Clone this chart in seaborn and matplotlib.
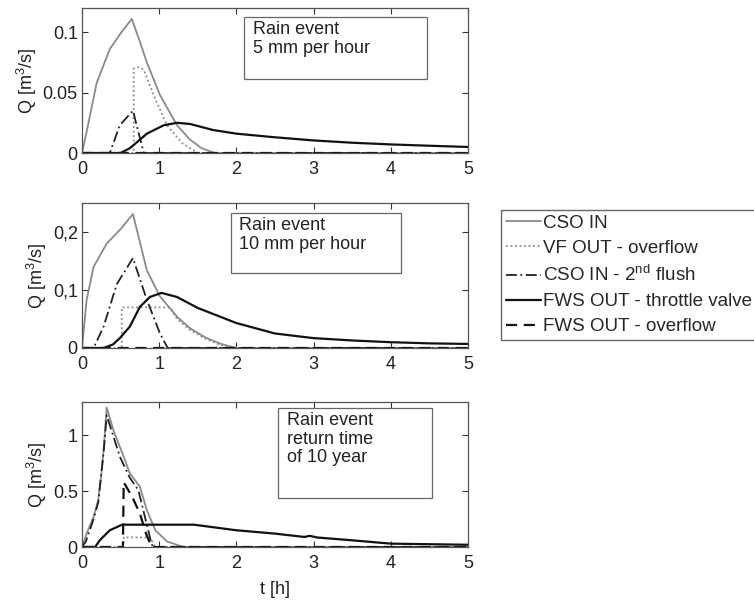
import numpy as np
import matplotlib
matplotlib.use("Agg")
from matplotlib import pyplot as plt
from matplotlib.lines import Line2D
from matplotlib.patches import Rectangle
import seaborn as sns

# ---- data ----
# rain event 5 mm per hour
cso_in_5_t = [0, 0.06, 0.19, 0.36, 0.5, 0.645, 0.75, 0.84, 1.01, 1.23, 1.4, 1.55, 1.72, 5]
cso_in_5_q = [0, 0.0175, 0.058, 0.086, 0.099, 0.111, 0.092, 0.075, 0.048, 0.023, 0.011, 0.004, 0, 0]
vf_5_t = [0, 0.67, 0.67, 0.73, 0.8, 0.93, 1.1, 1.3, 1.5, 5]
vf_5_q = [0, 0, 0.07, 0.071, 0.069, 0.0475, 0.023, 0.008, 0, 0]
flush_5_t = [0, 0.36, 0.49, 0.66, 0.8, 5]
flush_5_q = [0, 0, 0.023, 0.035, 0, 0]
fws_5_t = [0, 0.5, 0.62, 0.75, 0.84, 1.06, 1.23, 1.4, 1.7, 2.0, 2.5, 3.0, 3.5, 4.0, 4.5, 5.0]
fws_5_q = [0, 0, 0.004, 0.011, 0.016, 0.023, 0.025, 0.024, 0.019, 0.016, 0.013, 0.0104, 0.0085, 0.0071, 0.006, 0.005]
ovf_5_t = [0, 5]
ovf_5_q = [0, 0]

# rain event 10 mm per hour
cso_in_10_t = [0, 0.06, 0.15, 0.32, 0.5, 0.66, 0.84, 1.01, 1.23, 1.4, 1.6, 1.8, 2.0, 5]
cso_in_10_q = [0, 0.083, 0.14, 0.18, 0.205, 0.231, 0.134, 0.089, 0.054, 0.034, 0.018, 0.007, 0, 0]
vf_10_t = [0, 0.515, 0.515, 1.14, 1.23, 1.4, 1.6, 1.8, 1.95, 5]
vf_10_q = [0, 0, 0.07, 0.07, 0.05, 0.031, 0.016, 0.005, 0, 0]
flush_10_t = [0, 0.15, 0.28, 0.45, 0.66, 0.84, 1.01, 1.11, 5]
flush_10_q = [0, 0, 0.037, 0.11, 0.155, 0.083, 0.025, 0, 0]
fws_10_t = [0, 0.28, 0.4, 0.49, 0.62, 0.75, 0.88, 1.03, 1.23, 1.5, 2.0, 2.5, 3.0, 3.5, 4.0, 4.5, 5.0]
fws_10_q = [0, 0, 0.006, 0.017, 0.037, 0.071, 0.088, 0.095, 0.088, 0.069, 0.043, 0.025, 0.017, 0.013, 0.01, 0.008, 0.007]
ovf_10_t = [0, 5]
ovf_10_q = [0, 0]

# rain event, return time of 10 year
cso_in_y_t = [0, 0.06, 0.15, 0.21, 0.25, 0.28, 0.32, 0.41, 0.54, 0.62, 0.75, 0.84, 0.95, 1.1, 1.27, 1.35, 5]
cso_in_y_q = [0, 0.12, 0.27, 0.42, 0.65, 0.87, 1.25, 1.04, 0.81, 0.66, 0.54, 0.33, 0.15, 0.05, 0.01, 0, 0]
vf_y_t = [0, 0.54, 0.54, 0.88, 0.95, 5]
vf_y_q = [0, 0, 0.086, 0.086, 0, 0]
flush_y_t = [0, 0.05, 0.15, 0.21, 0.28, 0.32, 0.49, 0.62, 0.73, 0.9, 0.92, 5]
flush_y_q = [0, 0.05, 0.25, 0.4, 0.85, 1.18, 0.81, 0.62, 0.51, 0.03, 0, 0]
fws_y_t = [0, 0.17, 0.23, 0.36, 0.52, 1.45, 2.0, 2.5, 2.88, 2.95, 3.05, 3.5, 4.0, 4.5, 5.0]
fws_y_q = [0, 0, 0.06, 0.15, 0.2, 0.2, 0.15, 0.12, 0.09, 0.1, 0.085, 0.06, 0.03, 0.025, 0.02]
ovf_y_t = [0, 0.53, 0.54, 0.65, 0.75, 0.83, 0.9, 5]
ovf_y_q = [0, 0, 0.58, 0.45, 0.3, 0.12, 0, 0]

series_names = ["CSO IN", "VF OUT - overflow", "CSO IN - 2$^{\\mathrm{nd}}$ flush",
                "FWS OUT - throttle valve", "FWS OUT - overflow"]
box_texts = ["Rain event\n5 mm per hour", "Rain event\n10 mm per hour",
             "Rain event\nreturn time\nof 10 year"]
ytick_vals = [[0, 0.05, 0.1], [0, 0.1, 0.2], [0, 0.5, 1]]
ytick_labels = [["0", "0.05", "0.1"], ["0", "0,1", "0,2"], ["0", "0.5", "1"]]
ymax = [0.12, 0.25, 1.3]

panels = [
    [(cso_in_5_t, cso_in_5_q), (vf_5_t, vf_5_q), (flush_5_t, flush_5_q), (fws_5_t, fws_5_q), (ovf_5_t, ovf_5_q)],
    [(cso_in_10_t, cso_in_10_q), (vf_10_t, vf_10_q), (flush_10_t, flush_10_q), (fws_10_t, fws_10_q), (ovf_10_t, ovf_10_q)],
    [(cso_in_y_t, cso_in_y_q), (vf_y_t, vf_y_q), (flush_y_t, flush_y_q), (fws_y_t, fws_y_q), (ovf_y_t, ovf_y_q)],
]

# styles: colour, linestyle, width
styles = [("#8a8a8a", "-", 1.3),
          ("#8a8a8a", (0, (1, 1.5)), 1.3),
          ("#222222", (0, (6, 2, 1, 2)), 1.3),
          ("#111111", "-", 1.6),
          ("#111111", (0, (5, 3)), 1.6)]

sns.set_style("ticks")
plt.rcParams["font.family"] = ["Liberation Sans", "DejaVu Sans"]
plt.rcParams["mathtext.fontset"] = "custom"
plt.rcParams["mathtext.rm"] = "Liberation Sans"

FS = 13
fig = plt.figure(figsize=(7.54, 6.03), dpi=100)
bottoms = [1 - 153 / 603, 1 - 348 / 603, 1 - 547 / 603]
# text boxes in axes fraction: x, y, w, h
boxes = [(0.420, 0.51, 0.474, 0.428), (0.386, 0.517, 0.44, 0.414), (0.508, 0.338, 0.40, 0.621)]

for i in range(3):
    ax = fig.add_axes([82 / 754, bottoms[i], 386 / 754, 145 / 603])
    for j, (t, q) in enumerate(panels[i]):
        col, ls, lw = styles[j]
        sns.lineplot(x=t, y=q, ax=ax, color=col, linestyle=ls, linewidth=lw,
                     sort=False, estimator=None)
    ax.set_xlim(0, 5)
    ax.set_ylim(0, ymax[i])
    ax.set_xticks([0, 1, 2, 3, 4, 5])
    ax.set_xticklabels(["0", "1", "2", "3", "4", "5"], fontsize=FS)
    ax.set_yticks(ytick_vals[i])
    ax.set_yticklabels(ytick_labels[i], fontsize=FS)
    ax.tick_params(direction="in", top=True, right=True, length=4, width=0.8,
                   colors="#333333", labelcolor="#222222")
    ax.tick_params(axis="x", pad=6)
    ax.tick_params(axis="y", pad=3)
    for s in ax.spines.values():
        s.set_color("#555555")
        s.set_linewidth(0.9)
    ax.set_ylabel("Q [m$^{\\mathrm{3}}$/s]", fontsize=FS, color="#222222", labelpad=3)
    ax.set_xlabel("")
    bx, by, bw, bh = boxes[i]
    ax.add_patch(Rectangle((bx, by), bw, bh, transform=ax.transAxes, fill=False,
                           edgecolor="#666666", linewidth=0.9))
    ax.text(bx + 0.022, by + bh - 0.03, box_texts[i], transform=ax.transAxes,
            fontsize=FS, va="top", ha="left", color="#222222", linespacing=1.12)
    if i == 2:
        ax.set_xlabel("t [h]", fontsize=FS, color="#222222", labelpad=6)

handles = [Line2D([], [], color=c, linestyle=ls, linewidth=lw) for c, ls, lw in styles]
fig.legend(handles, series_names, loc="upper left",
           bbox_to_anchor=(501 / 754, 1 - 210 / 603), fontsize=13.5,
           frameon=True, fancybox=False, edgecolor="#666666", framealpha=1,
           handlelength=1.9, handletextpad=0.1, labelspacing=0.42,
           borderaxespad=0, borderpad=0.25)

fig.savefig("out.png", dpi=100)
